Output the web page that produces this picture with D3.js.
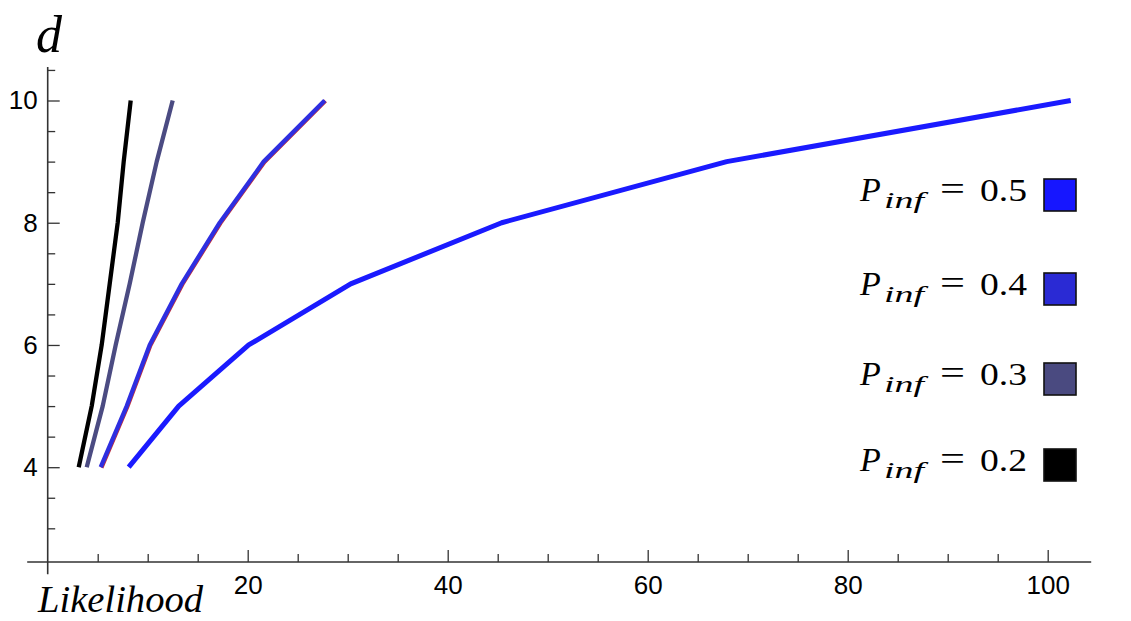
<!DOCTYPE html>
<html>
<head>
<meta charset="utf-8">
<script src="https://cdn.jsdelivr.net/npm/d3@7"></script>
<style>
  body { margin: 0; background: #fff; }
  .tick text { font-family: "Liberation Sans", Arial, sans-serif; font-size: 26px; fill: #000; }
  .tick line { stroke: #333; stroke-width: 1.3; }
  .math { font-family: "Liberation Serif", "Times New Roman", serif; fill: #000; }
</style>
</head>
<body>
<script>
// data
var dValues = [4, 5, 6, 7, 8, 9, 10];
var pinf = [0.5, 0.4, 0.3, 0.2];
var like05 = [8.1, 13.1, 20.1, 30.3, 45.4, 67.9, 102.3];
var like04 = [5.3, 7.9, 10.2, 13.4, 17.2, 21.6, 27.7];
var like03 = [3.9, 5.5, 6.8, 8.2, 9.5, 10.9, 12.5];
var like02 = [3.1, 4.4, 5.4, 6.2, 7.0, 7.6, 8.3];
var xMajor = [20, 40, 60, 80, 100];
var xMinor = [5, 10, 15, 25, 30, 35, 45, 50, 55, 65, 70, 75, 85, 90, 95];
var yMajor = [4, 6, 8, 10];
var yMinor = [3, 3.5, 4.5, 5, 5.5, 6.5, 7, 7.5, 8.5, 9, 9.5, 10.5];

var lineColors = ["#1a1aff", "#2e2ee0", "#4b4b82", "#000000"];
var swatchColors = ["#1616ff", "#2a2ad4", "#4a4a80", "#000000"];
var legendRows = [195, 289, 379, 465];

var svg = d3.select("body").append("svg")
	.attr("width", 1131)
	.attr("height", 621);

var x = d3.scaleLinear().domain([0, 100]).range([47.7, 1047.7]);
var y = d3.scaleLinear().domain([4, 10]).range([467.2, 100.5]);
var yOrigin = 2.45;

// axis lines
svg.append("line")
	.attr("x1", x(-2.05)).attr("x2", x(104.35))
	.attr("y1", y(yOrigin)).attr("y2", y(yOrigin))
	.attr("stroke", "#333").attr("stroke-width", 1.6);
svg.append("line")
	.attr("x1", x(0)).attr("x2", x(0))
	.attr("y1", y(2.25)).attr("y2", y(10.55))
	.attr("stroke", "#333").attr("stroke-width", 1.6);

// x ticks
var gx = svg.append("g").attr("transform", "translate(0," + y(yOrigin) + ")");
gx.call(d3.axisBottom(x).tickValues(xMajor).tickSize(-12).tickPadding(14).tickFormat(d3.format("d")));
gx.append("g").call(d3.axisBottom(x).tickValues(xMinor).tickSize(-8).tickFormat(""));
gx.selectAll(".domain").remove();

// y ticks
var gy = svg.append("g").attr("transform", "translate(" + x(0) + ",0)");
gy.call(d3.axisLeft(y).tickValues(yMajor).tickSize(-12).tickPadding(10).tickFormat(d3.format("d")));
gy.append("g").call(d3.axisLeft(y).tickValues(yMinor).tickSize(-7.5).tickFormat(""));
gy.selectAll(".domain").remove();

// axis labels
svg.append("text").attr("class", "math")
	.attr("x", 36).attr("y", 52)
	.style("font-size", "52px").style("font-style", "italic")
	.text("d");
svg.append("text").attr("class", "math")
	.attr("x", 38).attr("y", 612)
	.attr("textLength", 165).attr("lengthAdjust", "spacingAndGlyphs")
	.style("font-size", "38px").style("font-style", "italic")
	.text("Likelihood");

// curves
var series = [like05, like04, like03, like02];
var line = d3.line()
	.x(function(d) { return x(d.l); })
	.y(function(d) { return y(d.d); });

function pts(arr) {
	return arr.map(function(v, i) { return {l: v, d: dValues[i]}; });
}

// the 0.4 curve has a thin red fringe in the original
svg.append("path")
	.attr("d", line(pts(like04)))
	.attr("transform", "translate(0.8,0.4)")
	.attr("fill", "none").attr("stroke", "#c0303a").attr("stroke-width", 4);

svg.selectAll(".curve")
	.data(series.slice().reverse())
	.enter().append("path")
	.attr("class", "curve")
	.attr("d", function(d) { return line(pts(d)); })
	.attr("fill", "none")
	.attr("stroke", function(d, i) { return lineColors[3 - i]; })
	.attr("stroke-width", function(d, i) { return i == 3 ? 5 : 4.3; })
	.attr("stroke-linejoin", "round");

// legend
var R = 1028;
var leg = svg.selectAll(".leg")
	.data(pinf)
	.enter().append("g")
	.attr("class", "leg")
	.attr("transform", function(d, i) { return "translate(0," + legendRows[i] + ")"; });

leg.append("text").attr("class", "math")
	.attr("x", R - 168).attr("y", 6)
	.style("font-size", "34px").style("font-style", "italic")
	.text("P");
leg.append("text").attr("class", "math")
	.attr("x", R - 144).attr("y", 13)
	.attr("textLength", 40).attr("lengthAdjust", "spacingAndGlyphs")
	.style("font-size", "24px").style("font-style", "italic")
	.text("inf");
leg.append("text").attr("class", "math")
	.attr("x", R - 88).attr("y", 5)
	.attr("textLength", 25).attr("lengthAdjust", "spacingAndGlyphs")
	.style("font-size", "33px")
	.text("=");
leg.append("text").attr("class", "math")
	.attr("x", R - 48).attr("y", 6)
	.attr("textLength", 47).attr("lengthAdjust", "spacingAndGlyphs")
	.style("font-size", "32px")
	.text(function(d) { return d.toFixed(1); });

leg.append("rect")
	.attr("x", 1044).attr("y", -16)
	.attr("width", 32).attr("height", 32)
	.attr("fill", function(d, i) { return swatchColors[i]; })
	.attr("stroke", "#111").attr("stroke-width", 1.6);
</script>
</body>
</html>
